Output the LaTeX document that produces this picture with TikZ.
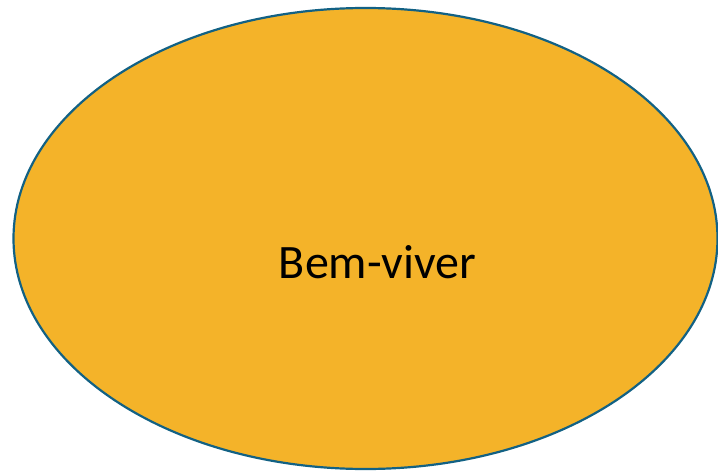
\documentclass[tikz,border=0pt]{standalone}
\usepackage{fontspec}
\setmainfont{Carlito}
\usetikzlibrary{shapes.geometric}
\definecolor{gold}{RGB}{244,179,41}
\definecolor{teal}{RGB}{18,97,132}

\begin{document}
\begin{tikzpicture}[x=1pt,y=-1pt]
        \useasboundingbox (0,0) rectangle (718,471);
        \node[ellipse, fill=gold, draw=teal, line width=2.2pt, inner sep=0pt,
              minimum width=704pt, minimum height=461pt] (bem) at (365.5,238.5) {};
        \node[anchor=base, font=\fontsize{48}{56}\selectfont] (label) at (377.5,278) {Bem-viver};
      \end{tikzpicture}
\end{document}
